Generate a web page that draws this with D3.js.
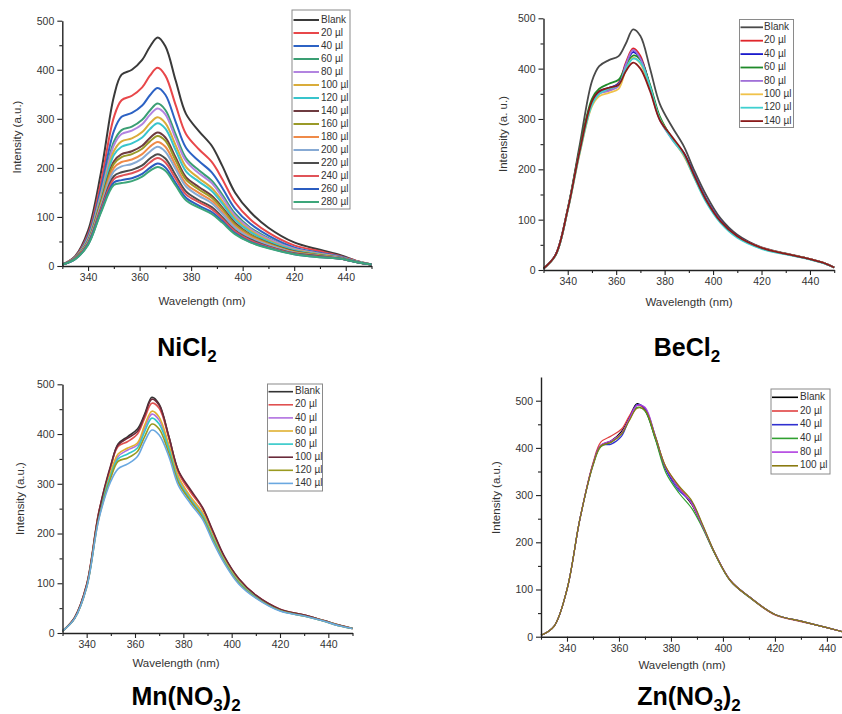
<!DOCTYPE html>
<html>
<head>
<meta charset="utf-8">
<script src="https://cdn.jsdelivr.net/npm/d3@7"></script>
<style>
  body { margin: 0; background: #fff; }
  svg { display: block; }
  text { font-family: "Liberation Sans", Arial, sans-serif; }
</style>
</head>
<body>
<svg id="fig" width="842" height="714"></svg>
<script>
// Emission wavelengths (nm) shared by every spectrum
const wavelengths = [330, 335, 340, 345, 350, 353, 357, 361, 364, 367, 370, 374, 378, 383, 388, 392, 397, 403, 410, 420, 430, 438, 445, 450];
const xTickValues = [340, 360, 380, 400, 420, 440];
const xMinorValues = [330, 350, 370, 390, 410, 430, 450];
const yTickValues = [0, 100, 200, 300, 400, 500];
const yMinorValues = [50, 150, 250, 350, 450];

// NiCl2 titration
const niLabels = ["Blank", "20 µl", "40 µl", "60 µl", "80 µl", "100 µl", "120 µl", "140 µl", "160 µl", "180 µl", "200 µl", "220 µl", "240 µl", "260 µl", "280 µl"];
const niColors = ["#3a3a3a", "#e8474a", "#2c62c4", "#3a9e73", "#b284e0", "#d9ac3a", "#38c4cc", "#6e3b40", "#9a9a28", "#ef8a48", "#87aad4", "#4d4d4d", "#e05358", "#2a5cc0", "#3da67a"];
const niValues = [
  [3, 20, 72, 190, 345, 390, 400, 420, 447, 466, 448, 378, 310, 275, 245, 205, 150, 110, 78, 48, 33, 22, 9, 3],
  [3, 19, 65, 171, 303, 338, 347, 364, 388, 404, 388, 328, 269, 238, 212, 178, 130, 95, 68, 42, 30, 20, 9, 3],
  [3, 18, 61, 158, 275, 304, 312, 327, 348, 363, 349, 294, 241, 214, 191, 160, 117, 86, 62, 38, 27, 19, 8, 3],
  [3, 17, 57, 149, 253, 277, 284, 298, 317, 331, 318, 268, 220, 195, 174, 146, 107, 78, 57, 35, 25, 18, 8, 3],
  [3, 17, 56, 146, 246, 269, 276, 289, 308, 321, 309, 260, 214, 189, 169, 141, 103, 76, 55, 35, 25, 18, 8, 3],
  [3, 17, 54, 140, 234, 254, 260, 273, 291, 303, 291, 246, 202, 179, 159, 133, 98, 72, 52, 33, 24, 17, 8, 3],
  [3, 16, 53, 136, 226, 243, 250, 262, 279, 291, 280, 236, 193, 172, 153, 128, 94, 69, 50, 32, 23, 17, 8, 3],
  [3, 16, 51, 131, 213, 228, 234, 245, 261, 272, 262, 221, 181, 161, 143, 120, 88, 64, 47, 30, 22, 17, 7, 3],
  [3, 16, 50, 129, 208, 222, 228, 239, 254, 265, 255, 215, 176, 156, 139, 117, 85, 63, 46, 29, 22, 16, 7, 3],
  [3, 15, 49, 125, 200, 212, 217, 228, 243, 253, 243, 205, 168, 149, 133, 111, 81, 60, 44, 28, 21, 16, 7, 3],
  [3, 15, 48, 122, 193, 203, 208, 219, 233, 243, 233, 197, 162, 143, 128, 107, 78, 57, 43, 27, 20, 16, 7, 3],
  [3, 15, 46, 117, 183, 191, 196, 205, 219, 228, 219, 185, 152, 134, 120, 100, 73, 54, 40, 26, 20, 15, 7, 3],
  [3, 15, 45, 115, 177, 184, 189, 198, 211, 220, 211, 178, 146, 130, 116, 97, 71, 52, 39, 25, 19, 15, 7, 3],
  [3, 14, 44, 111, 170, 175, 179, 188, 200, 209, 201, 169, 139, 123, 110, 92, 67, 49, 37, 24, 18, 15, 7, 3],
  [3, 14, 43, 109, 165, 169, 173, 182, 194, 202, 194, 164, 134, 119, 106, 89, 65, 48, 36, 24, 18, 15, 7, 3]
];

// BeCl2 titration
const beLabels = ["Blank", "20 µl", "40 µl", "60 µl", "80 µl", "100 µl", "120 µl", "140 µl"];
const beColors = ["#4a4a4a", "#e0262b", "#1a1acc", "#1f8a2a", "#a070d8", "#f0c24a", "#40d0d0", "#8a1a1a"];
const beValues = [
  [3, 30, 120, 250, 375, 405, 417, 425, 450, 478, 465, 400, 330, 285, 245, 200, 150, 103, 70, 45, 33, 24, 15, 5],
  [3, 30, 120, 238, 335, 352, 358, 372, 412, 440, 425, 362, 300, 262, 230, 190, 140, 97, 66, 44, 32, 24, 15, 5],
  [3, 30, 120, 238, 333, 355, 362, 370, 408, 433, 420, 365, 302, 262, 232, 192, 142, 98, 67, 44, 32, 24, 15, 5],
  [3, 30, 122, 242, 340, 360, 370, 378, 405, 426, 418, 368, 305, 262, 230, 190, 140, 96, 66, 43, 32, 24, 15, 5],
  [3, 30, 120, 236, 330, 350, 356, 365, 408, 437, 420, 362, 298, 260, 228, 190, 140, 97, 66, 44, 32, 24, 15, 5],
  [3, 29, 118, 232, 325, 345, 352, 360, 398, 422, 410, 360, 300, 262, 226, 186, 138, 96, 66, 44, 32, 24, 15, 5],
  [3, 29, 118, 234, 328, 350, 360, 368, 400, 420, 412, 364, 300, 260, 228, 186, 136, 94, 64, 42, 31, 23, 14, 5],
  [3, 30, 120, 238, 335, 355, 362, 368, 395, 412, 400, 355, 298, 265, 232, 190, 140, 97, 67, 44, 32, 24, 15, 5]
];

// Mn(NO3)2 titration
const mnLabels = ["Blank", "20 µl", "40 µl", "60 µl", "80 µl", "100 µl", "120 µl", "140 µl"];
const mnColors = ["#333333", "#e05050", "#b070e0", "#e0b030", "#30c8c8", "#6a2a3a", "#9a9a20", "#6aa8e0"];
const mnValues = [
  [4, 30, 95, 240, 335, 380, 395, 410, 440, 474, 460, 395, 325, 285, 250, 205, 152, 108, 75, 47, 36, 25, 15, 9],
  [4, 31, 98, 243, 335, 375, 385, 400, 432, 462, 452, 392, 322, 283, 250, 206, 152, 108, 76, 48, 36, 25, 15, 9],
  [4, 30, 95, 236, 320, 355, 368, 378, 412, 440, 428, 375, 312, 272, 240, 196, 146, 104, 73, 46, 35, 25, 15, 9],
  [4, 30, 95, 238, 324, 360, 372, 382, 418, 446, 434, 378, 314, 274, 242, 198, 148, 105, 73, 46, 35, 25, 15, 9],
  [4, 30, 94, 234, 318, 350, 360, 372, 405, 432, 420, 370, 306, 268, 236, 194, 144, 102, 72, 45, 34, 24, 14, 9],
  [4, 31, 97, 242, 338, 378, 392, 405, 438, 470, 458, 395, 326, 288, 252, 208, 154, 109, 76, 48, 36, 25, 15, 9],
  [4, 29, 92, 230, 312, 345, 352, 365, 395, 420, 410, 362, 302, 265, 232, 190, 142, 100, 71, 45, 34, 24, 14, 9],
  [4, 29, 92, 228, 305, 330, 340, 355, 385, 408, 398, 355, 296, 260, 228, 186, 140, 98, 70, 44, 34, 24, 14, 9]
];

// Zn(NO3)2 titration
const znLabels = ["Blank", "20 µl", "40 µl", "40 µl", "80 µl", "100 µl"];
const znColors = ["#000000", "#e04040", "#3030d0", "#30a030", "#b040e0", "#8a7a10"];
const znValues = [
  [3, 22, 100, 250, 365, 405, 415, 435, 465, 494, 480, 420, 355, 315, 280, 235, 175, 118, 85, 47, 33, 22, 12, 5],
  [3, 22, 100, 250, 368, 412, 425, 440, 468, 490, 482, 422, 360, 318, 282, 236, 175, 118, 84, 46, 32, 22, 12, 5],
  [3, 22, 100, 250, 365, 405, 408, 425, 462, 492, 484, 425, 355, 310, 285, 238, 176, 118, 85, 47, 33, 22, 12, 5],
  [3, 22, 100, 250, 362, 402, 412, 430, 460, 486, 478, 418, 348, 305, 272, 232, 174, 117, 84, 47, 33, 22, 12, 5],
  [3, 22, 100, 250, 365, 406, 415, 432, 462, 490, 486, 425, 358, 315, 282, 236, 176, 118, 85, 47, 33, 22, 12, 5],
  [3, 22, 100, 250, 364, 404, 412, 430, 458, 484, 480, 424, 360, 320, 288, 240, 176, 118, 85, 47, 33, 22, 12, 5]
];

// Layout of the four panels
const panels = [
  { labels: niLabels, colors: niColors, values: niValues, yMax: 500,
    xr: [62.3, 371.5], yr: [266, 20.7], lw: 2,
    yTitle: "Intensity (a.u.)", yTitlePos: [18, 137], xTitlePos: [202, 302],
    title: [["NiCl", false], ["2", true]], titlePos: [187, 356],
    legend: { x: 292, y: 10, w: 58, h: 199, first: 20, step: 13.0, lx0: 293.5, lx1: 319, tx: 321 } },
  { labels: beLabels, colors: beColors, values: beValues, yMax: 500,
    xr: [543.5, 834.2], yr: [270, 18.3], lw: 1.8,
    yTitle: "Intensity (a. u.)", yTitlePos: [504, 134], xTitlePos: [689, 303],
    title: [["BeCl", false], ["2", true]], titlePos: [687, 356],
    legend: { x: 739.5, y: 19.5, w: 54, h: 108, first: 27.3, step: 13.4, lx0: 740.5, lx1: 763, tx: 764 } },
  { labels: mnLabels, colors: mnColors, values: mnValues, yMax: 500,
    xr: [62.5, 352.5], yr: [633, 384.3], lw: 1.6,
    yTitle: "Intensity (a.u.)", yTitlePos: [21, 498.5], xTitlePos: [176, 664],
    title: [["Mn(NO", false], ["3", true], [")", false], ["2", true]], titlePos: [186, 705],
    legend: { x: 267.5, y: 384, w: 55, h: 107, first: 391.7, step: 13.1, lx0: 268.5, lx1: 293, tx: 295 } },
  { labels: znLabels, colors: znColors, values: znValues, yMax: 550,
    xr: [541, 852.9], yr: [636.7, 377.1], lw: 1.2,
    yTitle: "Intensity (a.u.)", yTitlePos: [497, 497.5], xTitlePos: [682, 666],
    title: [["Zn(NO", false], ["3", true], [")", false], ["2", true]], titlePos: [689, 705],
    legend: { x: 771, y: 389, w: 59, h: 85, first: 397.3, step: 13.7, lx0: 772, lx1: 798, tx: 800 } }
];

const svg = d3.select("#fig");

panels.forEach(p => {
  const g = svg.append("g");
  const x = d3.scaleLinear().domain([330, 450]).range(p.xr);
  const y = d3.scaleLinear().domain([0, p.yMax]).range(p.yr);

  // spectra, drawn as smooth curves through the sampled points
  const line = d3.line()
    .x((d, i) => x(wavelengths[i]))
    .y(d => y(d))
    .curve(d3.curveCatmullRom.alpha(0.5));
  g.append("g").selectAll("path")
    .data(p.values)
    .join("path")
    .attr("d", line)
    .attr("fill", "none")
    .attr("stroke", (d, i) => p.colors[i])
    .attr("stroke-width", p.lw)
    .attr("stroke-linejoin", "round");

  // axes with major and minor ticks
  g.append("g").attr("transform", `translate(0,${p.yr[0]})`)
    .call(d3.axisBottom(x).tickValues(xTickValues).tickSize(5).tickSizeOuter(0).tickPadding(3));
  g.append("g").attr("transform", `translate(0,${p.yr[0]})`)
    .call(d3.axisBottom(x).tickValues(xMinorValues).tickSize(3).tickFormat("").tickSizeOuter(0))
    .select(".domain").remove();
  g.append("g").attr("transform", `translate(${p.xr[0]},0)`)
    .call(d3.axisLeft(y).tickValues(yTickValues).tickSize(5).tickSizeOuter(0).tickPadding(3));
  g.append("g").attr("transform", `translate(${p.xr[0]},0)`)
    .call(d3.axisLeft(y).tickValues(yMinorValues).tickSize(3).tickFormat("").tickSizeOuter(0))
    .select(".domain").remove();

  g.selectAll(".domain").attr("stroke", "#222").attr("stroke-width", 1.4);
  g.selectAll(".tick line").attr("stroke", "#222").attr("stroke-width", 1.1);
  g.selectAll(".tick text").attr("fill", "#333").attr("font-size", 10.5)
    .attr("font-family", "'Liberation Sans', Arial, sans-serif");

  // axis titles
  g.append("text")
    .attr("x", p.xTitlePos[0]).attr("y", p.xTitlePos[1])
    .attr("text-anchor", "middle").attr("dominant-baseline", "middle")
    .attr("font-size", 11.5).attr("fill", "#333")
    .text("Wavelength (nm)");
  g.append("text")
    .attr("transform", `translate(${p.yTitlePos[0]},${p.yTitlePos[1]}) rotate(-90)`)
    .attr("text-anchor", "middle").attr("dominant-baseline", "middle")
    .attr("font-size", 11.5).attr("fill", "#333")
    .text(p.yTitle);

  // legend
  const L = p.legend;
  const lg = g.append("g");
  lg.append("rect")
    .attr("x", L.x).attr("y", L.y).attr("width", L.w).attr("height", L.h)
    .attr("fill", "#fff").attr("stroke", "#8a8a8a").attr("stroke-width", 1);
  const rows = lg.selectAll("g.row").data(p.labels).join("g").attr("class", "row");
  rows.append("line")
    .attr("x1", L.lx0).attr("x2", L.lx1)
    .attr("y1", (d, i) => L.first + i * L.step).attr("y2", (d, i) => L.first + i * L.step)
    .attr("stroke", (d, i) => p.colors[i]).attr("stroke-width", Math.max(p.lw, 1.6));
  rows.append("text")
    .attr("x", L.tx).attr("y", (d, i) => L.first + i * L.step)
    .attr("dominant-baseline", "middle")
    .attr("font-size", 10).attr("fill", "#333")
    .text(d => d);

  // panel title with subscripts
  const t = g.append("text")
    .attr("x", p.titlePos[0]).attr("y", p.titlePos[1])
    .attr("text-anchor", "middle")
    .attr("font-size", 25).attr("font-weight", "bold").attr("fill", "#000");
  let shifted = false;
  p.title.forEach(([s, sub]) => {
    const ts = t.append("tspan").text(s);
    if (sub && !shifted) { ts.attr("dy", 6).attr("font-size", 17); shifted = true; }
    else if (sub) { ts.attr("font-size", 17); }
    else if (!sub && shifted) { ts.attr("dy", -6); shifted = false; }
  });
});
</script>
</body>
</html>
